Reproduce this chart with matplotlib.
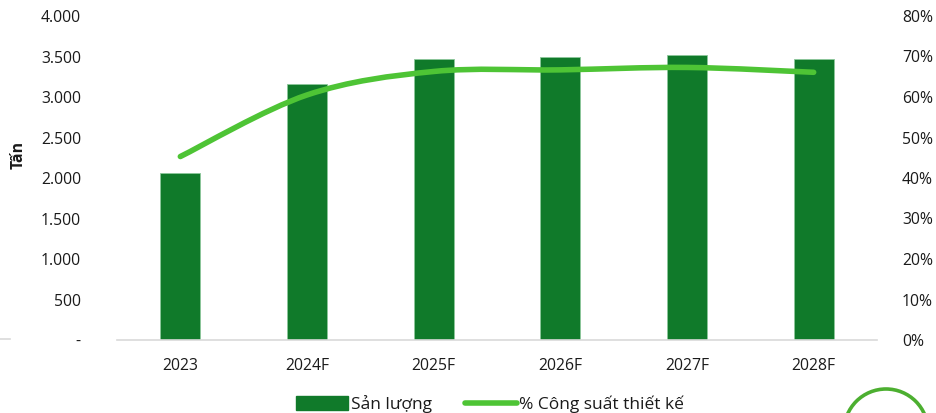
import numpy as np
import matplotlib.pyplot as plt
from matplotlib.path import Path
from matplotlib.patches import PathPatch, Patch, Ellipse
from matplotlib.lines import Line2D
from matplotlib.ticker import FuncFormatter

plt.rcParams['font.family'] = ['Open Sans', 'Noto Sans', 'DejaVu Sans']

years = ['2023', '2024F', '2025F', '2026F', '2027F', '2028F']
san_luong = [2060, 3157, 3465, 3494, 3518, 3465]          # tấn
cong_suat = [45.3, 60.5, 66.3, 66.7, 67.3, 66.1]           # % công suất thiết kế

bar_color = '#107a2a'
line_color = '#4ec435'
txt_color = '#1a1a1a'
fs = 11.3


def smooth_path(xs, ys, tension=1/6):
    # cubic bezier through all points (catmull-rom style control points)
    pts = np.column_stack([xs, ys]).astype(float)
    verts = [pts[0]]
    codes = [Path.MOVETO]
    n = len(pts)
    for i in range(n - 1):
        p0 = pts[i - 1] if i > 0 else pts[i]
        p1 = pts[i]
        p2 = pts[i + 1]
        p3 = pts[i + 2] if i + 2 < n else pts[i + 1]
        c1 = p1 + (p2 - p0) * tension
        c2 = p2 - (p3 - p1) * tension
        verts += [c1, c2, p2]
        codes += [Path.CURVE4] * 3
    return Path(verts, codes)


fig = plt.figure(figsize=(9.36, 4.13), dpi=100)
ax = fig.add_axes([117 / 936, 1 - 340 / 413, 760 / 936, 324 / 413])
x = np.arange(len(years))

ax.bar(x, san_luong, width=0.316, color=bar_color, edgecolor='#8cc79a',
       linewidth=0.6, zorder=2)
ax.set_xlim(-0.5, len(years) - 0.5)
ax.set_ylim(0, 4000)
ax.set_yticks(np.arange(0, 4001, 500))


def vn_thousands(v, pos):
    if v == 0:
        return '-'
    return f'{int(v):,}'.replace(',', '.')


ax.yaxis.set_major_formatter(FuncFormatter(vn_thousands))
ax.set_xticks(x)
ax.set_xticklabels(years)
ax.tick_params(axis='both', length=0, labelsize=fs, colors=txt_color)
ax.tick_params(axis='y', pad=26)
ax.tick_params(axis='x', pad=13)
for s in ['top', 'right', 'left']:
    ax.spines[s].set_visible(False)
ax.spines['bottom'].set_color('#d9d9d9')
ax.spines['bottom'].set_linewidth(1.2)

ax2 = ax.twinx()
ax2.set_ylim(0, 80)
ax2.set_yticks(np.arange(0, 81, 10))
ax2.yaxis.set_major_formatter(FuncFormatter(lambda v, p: f'{int(v)}%'))
ax2.tick_params(axis='y', length=0, labelsize=fs, colors=txt_color, pad=18)
for s in ax2.spines.values():
    s.set_visible(False)

curve = PathPatch(smooth_path(x, cong_suat), facecolor='none', edgecolor=line_color,
                  linewidth=4, capstyle='round', joinstyle='round', zorder=3)
ax2.add_patch(curve)

fig.text(19 / 936, 1 - 155 / 413, 'Tấn', rotation=90, ha='center', va='center',
         fontsize=fs, fontweight='bold', color=txt_color)

handles = [Patch(facecolor=bar_color, edgecolor=bar_color),
           Line2D([0], [0], color=line_color, linewidth=4, solid_capstyle='round')]
fig.legend(handles, ['Sản lượng', '% Công suất thiết kế'], loc='center',
           bbox_to_anchor=(490 / 936, 1 - 404 / 413), ncol=2, frameon=False,
           fontsize=12.5, handlelength=3.0, handleheight=0.8, handletextpad=0.15,
           columnspacing=1.9, labelcolor=txt_color)

# stray pieces around the chart frame
fig.add_artist(Line2D([0, 10 / 936], [1 - 339 / 413] * 2, color='#d9d9d9', linewidth=1.2))
fig.add_artist(Ellipse((886 / 936, 1 - 431 / 413), 84 / 936, 84 / 413,
                       facecolor='none', edgecolor='#4caf30', linewidth=2.6))

fig.savefig('out.png', dpi=100)
